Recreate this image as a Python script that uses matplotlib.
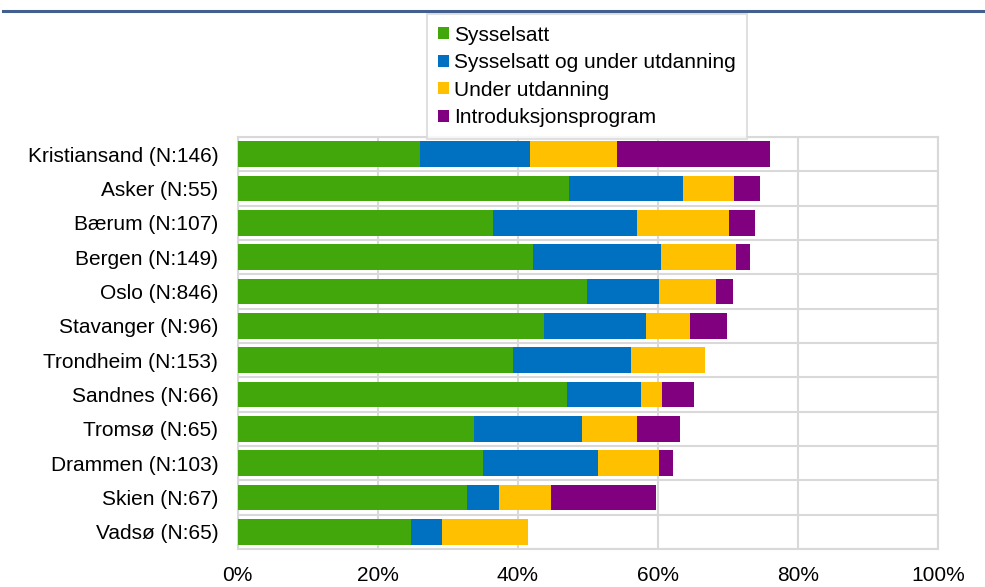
import matplotlib
matplotlib.use("Agg")
import matplotlib.pyplot as plt
from matplotlib.lines import Line2D
from matplotlib.patches import Patch
import numpy as np

plt.rcParams["font.family"] = ["Liberation Sans", "DejaVu Sans"]

kommuner = ["Kristiansand (N:146)", "Asker (N:55)", "Bærum (N:107)", "Bergen (N:149)",
            "Oslo (N:846)", "Stavanger (N:96)", "Trondheim (N:153)", "Sandnes (N:66)",
            "Tromsø (N:65)", "Drammen (N:103)", "Skien (N:67)", "Vadsø (N:65)"]

sysselsatt = [26.0, 47.3, 36.5, 42.2, 49.9, 43.7, 39.3, 47.0, 33.8, 35.0, 32.8, 24.7]
syss_utd = [15.8, 16.3, 20.5, 18.2, 10.3, 14.6, 16.9, 10.6, 15.4, 16.5, 4.5, 4.5]
utdanning = [12.4, 7.3, 13.1, 10.8, 8.1, 6.3, 10.5, 3.0, 7.8, 8.7, 7.5, 12.3]
intro = [21.8, 3.7, 3.7, 2.0, 2.4, 5.2, 0.0, 4.6, 6.1, 2.0, 14.9, 0.0]

serier = ["Sysselsatt", "Sysselsatt og under utdanning", "Under utdanning", "Introduksjonsprogram"]
farger = ["#41a70b", "#0070c0", "#ffc000", "#800080"]

fig = plt.figure(figsize=(9.85, 5.87), dpi=100)
ax = fig.add_axes([0.2413, 0.0647, 0.711, 0.7019])

y = np.arange(len(kommuner))
venstre = np.zeros(len(kommuner))
for verdier, farge in zip([sysselsatt, syss_utd, utdanning, intro], farger):
    ax.barh(y, verdier, left=venstre, height=0.75, color=farge, zorder=3)
    venstre += np.array(verdier)

ax.set_xlim(0, 100)
ax.set_ylim(len(kommuner) - 0.5, -0.5)
ax.set_xticks(np.arange(0, 101, 20))
ax.set_xticklabels([f"{v}%" for v in range(0, 101, 20)])
ax.set_yticks(y)
ax.set_yticklabels(kommuner)
ax.set_yticks(np.arange(len(kommuner) + 1) - 0.5, minor=True)

grid = "#d9d9d9"
ax.grid(axis="x", which="major", color=grid, linewidth=1.5, zorder=0)
ax.grid(axis="y", which="minor", color=grid, linewidth=1.5, zorder=0)
ax.set_axisbelow(True)
for s in ax.spines.values():
    s.set_color(grid)
    s.set_linewidth(1.5)

ax.tick_params(axis="both", which="both", length=0, labelsize=15, colors="black")
ax.tick_params(axis="x", pad=12)
ax.tick_params(axis="y", pad=14)

handles = [Patch(facecolor=f, edgecolor="none") for f in farger]
leg = ax.legend(handles, serier, loc="upper left", bbox_to_anchor=(0.4335, 0.976),
                bbox_transform=fig.transFigure, fontsize=15, frameon=True, fancybox=False,
                handlelength=0.5, handleheight=0.5, handletextpad=0.25,
                labelspacing=0.41, borderpad=0.55, borderaxespad=0)
leg.get_frame().set_edgecolor(grid)
leg.get_frame().set_linewidth(1.5)

fig.add_artist(Line2D([0.003, 1.0], [0.982, 0.982], transform=fig.transFigure,
                      color="#42608f", linewidth=2.2))

fig.savefig("out.png", dpi=100)
